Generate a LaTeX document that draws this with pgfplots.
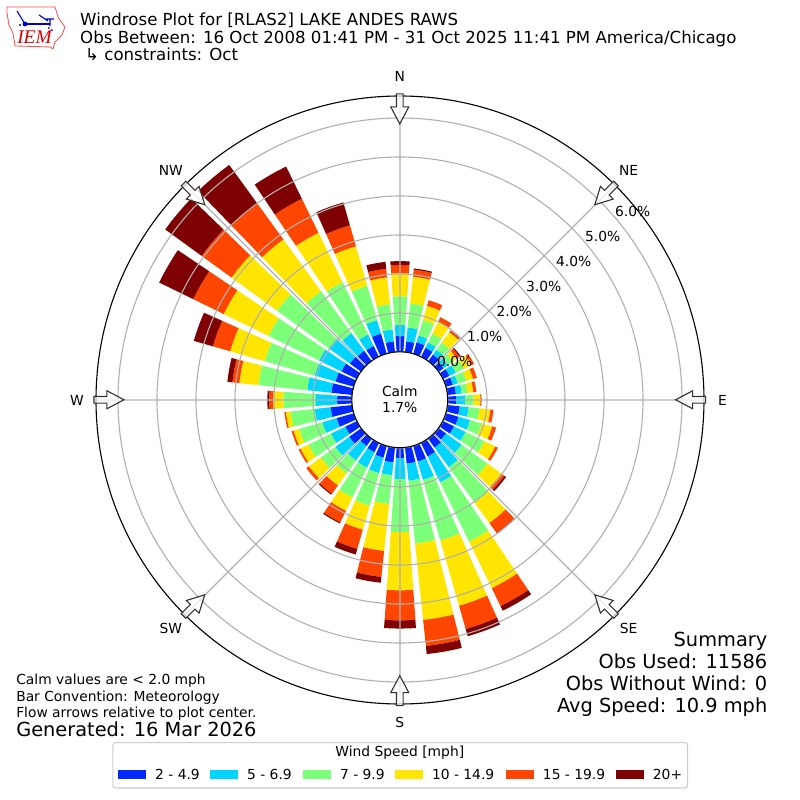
\documentclass[border=0pt]{standalone}
\usepackage{fontspec}
\setmainfont{DejaVu Sans}
\newfontfamily\iemfont{Liberation Serif}
\usepackage{pgfplots}
\pgfplotsset{compat=1.18}
\usepgfplotslibrary{polar}
\definecolor{wa}{RGB}{0,40,255}
\definecolor{wb}{RGB}{0,212,255}
\definecolor{wc}{RGB}{124,255,121}
\definecolor{wd}{RGB}{255,229,0}
\definecolor{we}{RGB}{255,70,0}
\definecolor{wf}{RGB}{127,0,0}
\definecolor{gridc}{HTML}{B0B0B0}
\newcommand\fs[1]{\fontsize{#1}{#1}\selectfont}
\def\rz{1.2308}
% one wedge: direction, lower stack, upper stack, colour
\newcommand\wseg[4]{%
  \pgfmathparse{int((#3-#2)>0.001?1:0)}%
  \ifnum\pgfmathresult=1\relax
    \pgfmathsetmacro\ra{#2+\rz}\pgfmathsetmacro\rb{#3+\rz}%
    \pgfmathsetmacro\ta{90-#1-4}\pgfmathsetmacro\tb{90-#1-2}\pgfmathsetmacro\tc{90-#1}%
    \pgfmathsetmacro\td{90-#1+2}\pgfmathsetmacro\te{90-#1+4}%
    \edef\temp{\noexpand\addplot[draw=none,fill=#4,forget plot] coordinates {(\ta,\ra)(\tb,\ra)(\tc,\ra)(\td,\ra)(\te,\ra)(\te,\rb)(\td,\rb)(\tc,\rb)(\tb,\rb)(\ta,\rb)} -- cycle;}\temp
  \fi}
\newcommand\wbar[7]{%
  \pgfmathsetmacro\ca{#2}\pgfmathsetmacro\cb{\ca+#3}\pgfmathsetmacro\cc{\cb+#4}%
  \pgfmathsetmacro\cd{\cc+#5}\pgfmathsetmacro\ce{\cd+#6}\pgfmathsetmacro\cf{\ce+#7}%
  \let\xa\ca\let\xb\cb\let\xc\cc\let\xd\cd\let\xe\ce\let\xf\cf
  \wseg{#1}{0}{\xa}{wa}\wseg{#1}{\xa}{\xb}{wb}\wseg{#1}{\xb}{\xc}{wc}%
  \wseg{#1}{\xc}{\xd}{wd}\wseg{#1}{\xd}{\xe}{we}\wseg{#1}{\xe}{\xf}{wf}}
\begin{document}
\begin{tikzpicture}[font=\fs{10}]
\useasboundingbox (0,0) rectangle (8in,8in);
\begin{polaraxis}[
  at={(4in,4in)},anchor=center,
  scale only axis,width=6.08in,height=6.08in,
  xmin=0,xmax=360,ymin=0,ymax=7.795,
  clip=false,
  axis on top,
  xtick={0,45,...,315},xticklabels={},
  ytick={1.2308,2.2308,3.2308,4.2308,5.2308,6.2308,7.2308},yticklabels={},
  tick style={draw=none},
  y axis line style={draw=none},
  x axis line style={black,line width=0.8bp},
  grid=major,
  major grid style={gridc,line width=0.8bp},
]
\wbar{10}{.28}{.36}{.62}{.69}{.18}{.03}
\wbar{20}{.31}{.18}{.41}{.38}{.15}{0}
\wbar{30}{.26}{.15}{.26}{.33}{.13}{0}
\wbar{40}{.21}{.15}{.23}{.33}{.04}{.01}
\wbar{50}{.15}{.15}{.15}{.13}{.08}{.03}
\wbar{60}{.18}{.18}{.23}{.21}{.08}{0}
\wbar{70}{.18}{.13}{.23}{.18}{.10}{0}
\wbar{80}{.21}{.15}{.15}{.15}{.08}{0}
\wbar{90}{.21}{.23}{.21}{.18}{.03}{0}
\wbar{100}{.31}{.23}{.28}{.28}{.08}{0}
\wbar{110}{.33}{.31}{.31}{.28}{.10}{0}
\wbar{120}{.31}{.33}{.54}{.31}{.07}{0}
\wbar{130}{.23}{.49}{.82}{.44}{.10}{.05}
\wbar{140}{.28}{.62}{1.13}{.64}{.31}{.03}
\wbar{150}{.38}{.74}{1.69}{1.33}{.51}{.13}
\wbar{160}{.41}{.49}{1.62}{1.74}{.62}{.19}
\wbar{170}{.41}{.44}{1.62}{1.97}{.67}{.21}
\wbar{180}{.26}{.54}{1.36}{1.49}{.77}{.21}
\wbar{190}{.38}{.33}{.74}{1.21}{.67}{.15}
\wbar{200}{.31}{.41}{.87}{.64}{.51}{.15}
\wbar{210}{.26}{.44}{.85}{.38}{.33}{.03}
\wbar{220}{.23}{.46}{.41}{.38}{.26}{.03}
\wbar{230}{.38}{.44}{.46}{.38}{.08}{0}
\wbar{240}{.33}{.41}{.64}{.23}{.05}{0}
\wbar{250}{.46}{.38}{.62}{.15}{.05}{0}
\wbar{260}{.56}{.41}{.62}{.12}{.04}{0}
\wbar{270}{.38}{.56}{.82}{.26}{.10}{.05}
\wbar{280}{.54}{.62}{1.26}{.49}{.18}{.13}
\wbar{290}{.49}{.56}{1.33}{.92}{.46}{.51}
\wbar{300}{.44}{.64}{1.44}{1.28}{.87}{.97}
\wbar{310}{.36}{.67}{1.64}{1.44}{.95}{1.15}
\wbar{320}{.33}{.56}{1.33}{1.64}{1.13}{1.23}
\wbar{330}{.31}{.33}{1.49}{1.41}{.97}{.92}
\wbar{340}{.54}{.36}{.92}{1.05}{.56}{.61}
\wbar{350}{.28}{.31}{.65}{.69}{.22}{.18}
\wbar{360}{.41}{.28}{.74}{.59}{.21}{.10}
\end{polaraxis}
\begin{scope}[shift={(0,8in)},x=0.01in,y=-0.01in,every node/.style={inner sep=0pt}]
% centre
\fill[white,draw=black,line width=0.8bp] (400,400) circle (48);
\node[align=center] at (400,399.5) {Calm\\[1pt]1.7\%};
% flow arrows
\foreach \a in {0,45,...,315}{
  \begin{scope}[shift={(400,400)},rotate=\a]
  \draw[fill=white,fill opacity=0.75,draw=black!80,line width=0.8bp]
    (276,0)--(293,9)--(293,3.3)--(306,3.3)--(306,-3.3)--(293,-3.3)--(293,-9)--cycle;
  \end{scope}}
% direction labels
\node at (400,76.5) {N};\node at (629,170.5) {NE};\node at (723,400.5) {E};\node at (629,628.5) {SE};
\node at (400,722.5) {S};\node at (171,628.5) {SW};\node at (77,400.5) {W};\node at (171,170.5) {NW};
% radial labels
\node at (455,362) {0.0\%};\node at (485,336.5) {1.0\%};\node at (514.5,311.5) {2.0\%};
\node at (544,286.5) {3.0\%};\node at (574,261.5) {4.0\%};\node at (603,236.5) {5.0\%};\node at (633,211.5) {6.0\%};
% titles
\node[anchor=base west,font=\fs{12}] at (80,26) {Windrose Plot for [RLAS2] LAKE ANDES RAWS};
\node[anchor=base west,font=\fs{12}] at (80,43.5) {Obs Between: 16 Oct 2008 01:41 PM - 31 Oct 2025 11:41 PM America/Chicago};
\node[anchor=base west,font=\fs{12}] at (85,61) {↳ constraints: Oct};
% notes
\node[anchor=base west] at (16,685) {Calm values are < 2.0 mph};
\node[anchor=base west] at (16,702) {Bar Convention: Meteorology};
\node[anchor=base west] at (16,718) {Flow arrows relative to plot center.};
\node[anchor=base west,font=\fs{14}] at (16,737) {Generated: 16 Mar 2026};
\node[anchor=base east,font=\fs{14}] at (768,647) {Summary};
\node[anchor=base east,font=\fs{14}] at (768,669) {Obs Used: 11586};
\node[anchor=base east,font=\fs{14}] at (768,691) {Obs Without Wind: 0};
\node[anchor=base east,font=\fs{14}] at (768,713) {Avg Speed: 10.9 mph};
% legend
\draw[draw=black!20,fill=white,rounded corners=2pt,line width=0.8bp] (113,743) rectangle (688,788.5);
\node at (400,753) {Wind Speed [mph]};
\fill[wa] (118,770) rectangle (146,779.5); \node[anchor=base west] at (155,779.5) {2 - 4.9};
\fill[wb] (210,770) rectangle (238,779.5); \node[anchor=base west] at (247,779.5) {5 - 6.9};
\fill[wc] (303,770) rectangle (331,779.5); \node[anchor=base west] at (340,779.5) {7 - 9.9};
\fill[wd] (395,770) rectangle (423,779.5); \node[anchor=base west] at (432,779.5) {10 - 14.9};
\fill[we] (506,770) rectangle (534,779.5); \node[anchor=base west] at (543,779.5) {15 - 19.9};
\fill[wf] (616,770) rectangle (644,779.5); \node[anchor=base west] at (653,779.5) {20+};
% logo
\draw[red!70!white,line width=0.6bp] (7,7)--(55,7)--(57,13)--(59,19)--(65,27)--(62,35)--(55,42)--(53,49)--(50,47)--(15,46)--(13,33)--(9,25)--(7,13)--cycle;
\draw[blue!85!black,line width=1.3bp] (25,24)--(50,24);
\fill[blue!85!black] (25,24) circle (2.4);
\draw[blue!85!black,line width=0.8bp] (17,11)--(25,24) (50,19)--(50,26) (39,15)--(48,21) (46,19)--(54,19);
\fill[blue!85!black] (20,25) circle (1.2) (49,28) circle (1) (52,30) circle (1);
\node[anchor=base west,text=red!85!black] at (17,44) {\iemfont\itshape\fs{14}IEM};
\end{scope}
\end{tikzpicture}
\end{document}
